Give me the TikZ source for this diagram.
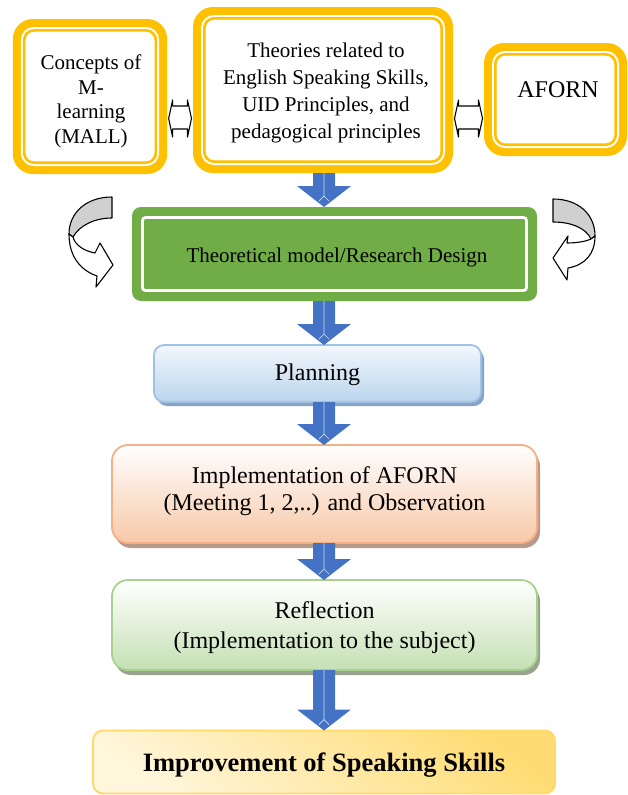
\documentclass[tikz,border=0pt]{standalone}
\usepackage{fontspec}
\setmainfont{Liberation Serif}
\usetikzlibrary{calc,shadows}
\definecolor{ygold}{HTML}{FFC000}
\definecolor{ggreen}{HTML}{70AD47}
\definecolor{abl}{HTML}{4472C4}
\definecolor{planB}{HTML}{9DC3E6}
\definecolor{planT}{HTML}{F2F7FC}
\definecolor{planL}{HTML}{BBD5EE}
\definecolor{planS}{HTML}{8AA3C2}
\definecolor{implB}{HTML}{F4B183}
\definecolor{implL}{HTML}{F7C8A8}
\definecolor{implS}{HTML}{B8998A}
\definecolor{reflB}{HTML}{A9D18E}
\definecolor{reflL}{HTML}{C5E0B4}
\definecolor{reflS}{HTML}{98A48F}
\definecolor{imprB}{HTML}{FFD966}
\definecolor{imprD}{HTML}{FFDC73}
\definecolor{imprL}{HTML}{FFF6DB}
\definecolor{cgray}{HTML}{D0D0D0}
\newcommand\ydeco[1]{%
  \fill[white, rounded corners=13pt] ([shift={(8pt,-8pt)}]#1.north west) rectangle ([shift={(-8pt,8pt)}]#1.south east);
  \draw[ygold, line width=2.6pt, rounded corners=10pt] ([shift={(11.3pt,-11.3pt)}]#1.north west) rectangle ([shift={(-11.3pt,11.3pt)}]#1.south east);
}
\newcommand\blockdown[2]{%
  \path let \p1=(#1.south), \p2=(#2.north) in [fill=abl]
    (313pt,\y1) -- (335pt,\y1) -- (335pt,\y2+21pt) -- (351pt,\y2+21pt) -- (324pt,\y2)
    -- (297pt,\y2+21pt) -- (313pt,\y2+21pt) -- cycle;
  \path let \p1=(#1.south), \p2=(#2.north) in [draw=white!75!abl, line width=0.7pt]
    (324pt,\y1) -- (324pt,\y2+11pt) (319pt,\y2+6pt) -- (324pt,\y2+11pt) -- (329pt,\y2+6pt);
}
\newcommand\lrconn[2]{%
  \path let \p1=(#1.east), \p2=(#2.west) in [draw=black, fill=white, line width=1.1pt, line join=round]
    (\x1+1.5pt,-118.5pt) -- (\x1+5.5pt,-100pt) -- (\x1+5.5pt,-106pt) -- (\x2-5.5pt,-106pt)
    -- (\x2-5.5pt,-100pt) -- (\x2-1.5pt,-118.5pt) -- (\x2-5.5pt,-137pt) -- (\x2-5.5pt,-129pt)
    -- (\x1+5.5pt,-129pt) -- (\x1+5.5pt,-137pt) -- cycle;
}
\begin{document}
\begin{tikzpicture}[x=1pt,y=-1pt,
  ybox/.style={fill=ygold, rounded corners=20pt, inner sep=0pt, outer sep=0pt},
  t21/.style={align=center, inner sep=0pt, font=\fontsize{21}{24.5}\selectfont},
  t21b/.style={align=center, inner sep=0pt, font=\fontsize{21}{26.7}\selectfont},
  t24/.style={align=center, inner sep=0pt, font=\fontsize{24}{28}\selectfont},
  stagebox/.style={line width=1.8pt, inner sep=0pt, outer sep=0pt}]
\useasboundingbox (0,0) rectangle (627,795);

% top boxes
\node[ybox, minimum width=154.3pt, minimum height=155pt] (b1) at (90,96.5) {};
\ydeco{b1}
\node[ybox, minimum width=260pt, minimum height=166pt] (b2) at (323,90) {};
\ydeco{b2}
\node[ybox, minimum width=143pt, minimum height=113pt] (b3) at (555.5,99.5) {};
\ydeco{b3}
\node[t21] (b1t) at (91,101.5) {Concepts of\\M-\\learning\\(MALL)};
\node[t21b] (b2t) at (326,93) {Theories related to\\English Speaking Skills,\\UID Principles, and\\pedagogical principles};
\node[t24] (b3t) at (558,90) {AFORN};

\lrconn{b1}{b2}
\lrconn{b2}{b3}

% green model box
\node[fill=ggreen, rounded corners=9pt, inner sep=0pt, outer sep=0pt,
      minimum width=405pt, minimum height=94pt] (gm) at (334.5,254) {};
\draw[white, line width=2.8pt, rounded corners=3pt] ([shift={(10.5pt,-10.5pt)}]gm.north west) rectangle ([shift={(-10.5pt,10.5pt)}]gm.south east);
\node[t21] (gmt) at (337,257) {Theoretical model/Research Design};

% curved arrows
\filldraw[fill=cgray, draw=black, line width=1.1pt, line join=round]
  (112,197) .. controls (86,197) and (69,213) .. (69,234) -- (73,237)
  .. controls (79,226) and (94,218) .. (112,218) -- cycle;
\filldraw[fill=white, draw=black, line width=1.1pt, line join=round]
  (69,234) .. controls (69,256) and (80,270) .. (97,276) -- (96,287) -- (113,265)
  -- (100,243) -- (95,253) .. controls (84,251) and (75,245) .. (73,237) -- cycle;
\filldraw[fill=cgray, draw=black, line width=1.1pt, line join=round]
  (553,199) .. controls (578,199) and (595,214) .. (595,236) -- (591,239)
  .. controls (586,228) and (571,222) .. (553,222) -- cycle;
\filldraw[fill=white, draw=black, line width=1.1pt, line join=round]
  (595,236) .. controls (595,254) and (585,265) .. (568,268) -- (567,280) -- (553,258)
  -- (568,236) -- (567,243) .. controls (578,243) and (587,241) .. (591,239) -- cycle;

% stage boxes
\node[stagebox, draw=planB, top color=planT, bottom color=planL, rounded corners=10pt,
      drop shadow={shadow xshift=3pt, shadow yshift=-4pt, fill=planS, opacity=1},
      minimum width=327pt, minimum height=57pt] (pl) at (317.5,373.5) {};
\node[t24] (plt) at (317.5,375) {Planning};

\node[stagebox, draw=implB, top color=white, bottom color=implL, rounded corners=16pt,
      drop shadow={shadow xshift=3pt, shadow yshift=-5pt, fill=implS, opacity=1},
      minimum width=425pt, minimum height=98pt] (im) at (324.5,494) {};
\node[t24, font=\fontsize{24}{27.5}\selectfont] (imt) at (324.5,491) {Implementation of AFORN\\(Meeting 1, 2,..) and Observation};

\node[stagebox, draw=reflB, top color=white, bottom color=reflL, rounded corners=16pt,
      drop shadow={shadow xshift=3pt, shadow yshift=-5pt, fill=reflS, opacity=1},
      minimum width=425pt, minimum height=90pt] (rf) at (324.5,625) {};
\node[t24, font=\fontsize{24}{30}\selectfont] (rft) at (324.5,628) {Reflection\\(Implementation to the subject)};

\node[stagebox, draw=imprB, top color=imprD, bottom color=imprL, shading angle=-35, rounded corners=10pt,
      minimum width=462pt, minimum height=63pt] (ip) at (324,762) {};
\node[align=center, inner sep=0pt, font=\fontsize{26.5}{30}\selectfont\bfseries] (ipt) at (324,765) {Improvement of Speaking Skills};

% block arrows
\blockdown{b2}{gm}
\blockdown{gm}{pl}
\blockdown{pl}{im}
\blockdown{im}{rf}
\blockdown{rf}{ip}
\end{tikzpicture}
\end{document}
